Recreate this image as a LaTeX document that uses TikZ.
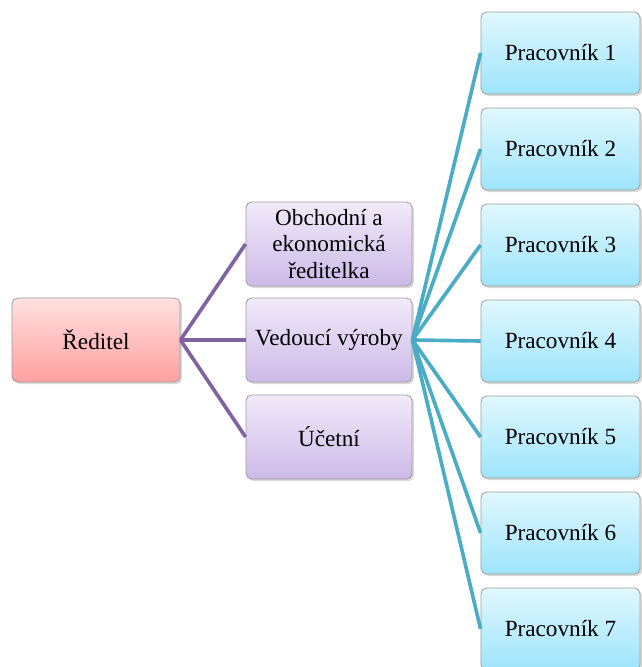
\documentclass[tikz,border=0pt]{standalone}
\usepackage{fontspec}
\setmainfont{Liberation Serif}
\usetikzlibrary{shadows}

\definecolor{linkPurple}{RGB}{128,100,162}
\definecolor{linkTeal}{RGB}{75,172,198}
\definecolor{dirTop}{RGB}{255,224,224}
\definecolor{dirBot}{RGB}{255,160,160}
\definecolor{midTop}{RGB}{242,234,250}
\definecolor{midBot}{RGB}{204,186,232}
\definecolor{wrkTop}{RGB}{224,248,255}
\definecolor{wrkBot}{RGB}{158,228,250}

\tikzset{
  orgbox/.style={draw=gray!75, line width=0.6pt, rounded corners=4pt, align=center,
    font=\fontsize{16.5}{19}\selectfont, inner sep=2pt,
    drop shadow={opacity=0.3, shadow xshift=1.5pt, shadow yshift=-1.5pt}},
  dirbox/.style={orgbox, minimum width=4.2cm, minimum height=2.1cm, top color=dirTop, bottom color=dirBot},
  midbox/.style={orgbox, minimum width=4.15cm, minimum height=2.1cm, top color=midTop, bottom color=midBot},
  wrkbox/.style={orgbox, minimum width=3.975cm, minimum height=2.05cm, top color=wrkTop, bottom color=wrkBot},
}

\begin{document}
\begin{tikzpicture}[x=0.025cm, y=-0.025cm, line width=2.6pt]
  \useasboundingbox (0,0) rectangle (642,667);

  % director and his three direct reports
  \node[dirbox] (dir) at (96,340) {Ředitel};
  \node[midbox] (obch) at (329,244) {Obchodní a\\ekonomická\\ředitelka};
  \node[midbox] (ved) at (329,340) {Vedoucí výroby};
  \node[midbox] (uct) at (329,437) {Účetní};

  \foreach \m in {obch,ved,uct}
    \draw[linkPurple] (dir.east) -- (\m.west);

  % workers under production
  \foreach \i in {1,...,7} {
    \pgfmathsetmacro{\yy}{53 + 96*(\i-1)}
    \node[wrkbox] (w\i) at (560.5,\yy) {Pracovník \i};
    \draw[linkTeal] (ved.east) -- (w\i.west);
  }
\end{tikzpicture}
\end{document}
